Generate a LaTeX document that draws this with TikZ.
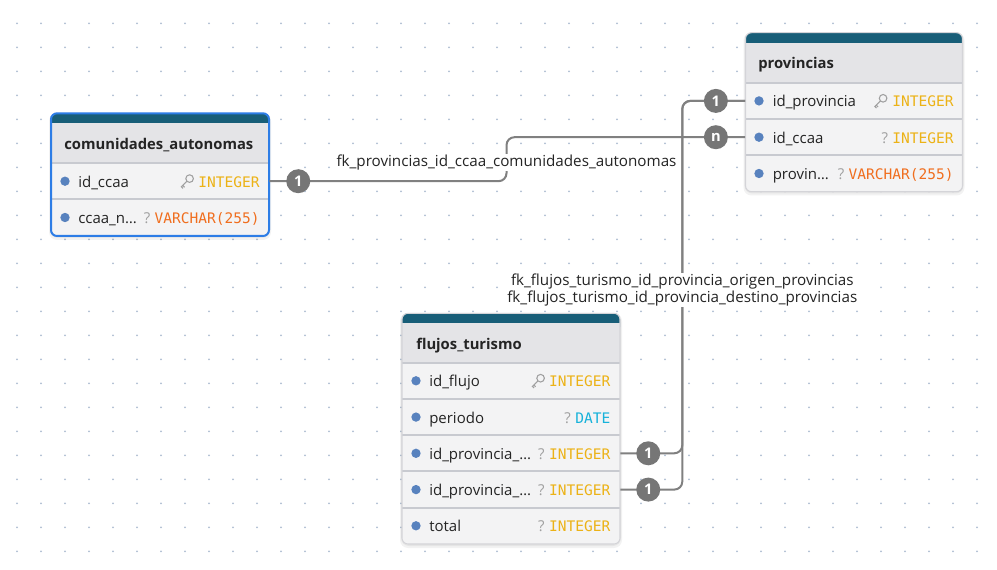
\documentclass[tikz,border=0pt]{standalone}
\usepackage{fontspec}
\setmainfont{Open Sans}
\newfontfamily\typefont{DejaVu Sans Mono}
\usepackage{tikz}
\usetikzlibrary{calc}
\definecolor{hdteal}{RGB}{24,94,120}
\definecolor{titlegray}{RGB}{228,228,231}
\definecolor{rowgray}{RGB}{243,243,244}
\definecolor{sepgray}{RGB}{200,202,208}
\definecolor{framegray}{RGB}{212,212,216}
\definecolor{selblue}{RGB}{45,125,230}
\definecolor{dotblue}{RGB}{88,130,190}
\definecolor{intyellow}{RGB}{236,178,22}
\definecolor{varorange}{RGB}{240,110,30}
\definecolor{datecyan}{RGB}{22,178,218}
\definecolor{linkgray}{RGB}{128,128,128}
\definecolor{badgegray}{RGB}{118,118,118}
\definecolor{griddot}{RGB}{175,190,210}
\definecolor{inkdark}{RGB}{36,36,36}
\definecolor{qgray}{RGB}{160,160,160}

\begin{document}
\begin{tikzpicture}[x=0.75pt,y=-0.75pt,
  tshadow/.style={fill=black,opacity=0.05,rounded corners=6pt},
  tframe/.style={draw=framegray,line width=0.8pt,rounded corners=4.5pt},
  selframe/.style={draw=selblue,line width=1.5pt,rounded corners=4.5pt},
  sepline/.style={draw=sepgray,line width=1.5pt},
  fieldrow/.style={rectangle,inner sep=0pt,minimum height=27.2pt},
  tabtitle/.style={anchor=base west,inner sep=0pt,text=inkdark,font=\fontsize{11.1}{13}\selectfont\bfseries},
  fieldname/.style={anchor=base west,inner sep=0pt,text=inkdark,font=\fontsize{11.25}{13.5}\selectfont},
  fieldtype/.style={anchor=base east,inner sep=0pt,font=\fontsize{10.9}{13}\typefont},
  qmark/.style={anchor=base east,inner sep=0pt,text=qgray,font=\fontsize{11.25}{13.5}\selectfont},
  fielddot/.style={circle,fill=dotblue,minimum size=7pt,inner sep=0pt},
  badge/.style={circle,fill=badgegray,text=white,minimum size=18pt,inner sep=0pt,font=\fontsize{11}{12}\selectfont\bfseries},
  fklink/.style={draw=linkgray,line width=1.5pt,rounded corners=6pt},
  fklabel/.style={fill=white,inner sep=1pt,text=inkdark,align=center,font=\fontsize{11.4}{12.45}\selectfont},
  keyicon/.pic={\draw[qgray,line width=0.8pt] (2.6,-2.6) circle (3.8) (0,0) -- (-6,6) (-4.2,4.2) -- (-2.4,6) (-5.6,5.6) -- (-4,7.2);}]
\fill[white] (0,0) rectangle (997,570);
\useasboundingbox (0,0) rectangle (997,570);
\foreach \i in {0,...,40} {\foreach \j in {0,...,22} {\fill[griddot] (17+24*\i,23.3+24*\j) circle (1);}}

\fill[tshadow] (49,113) rectangle (271,240);
\fill[tshadow] (50,114) rectangle (270,238);
\fill[rowgray,rounded corners=4.5pt] (51,113.3) rectangle (269,236);
\fill[hdteal,rounded corners=4.5pt] (51,113.3) rectangle (269,133);
\fill[titlegray] (51,123.5) rectangle (269,163);
\draw[sepline] (51,163) -- (269,163) (51,199.3) -- (269,199.3);
\draw[selframe] (51,113.3) rectangle (269,236);
\node[tabtitle] (ca) at (64,150) {comunidades\_autonomas};
\node[fieldrow,minimum width=163.5pt] (ca-1) at (160,181.2) {};
\node[fielddot] (ca-1d) at (65,181.2) {};
\node[fieldname] (ca-1n) at (78,187.2) {id\_ccaa};
\node[fieldtype,text=intyellow] (ca-1t) at (260,187.2) {INTEGER};
\pic at (187,181.2) {keyicon};
\node[fieldrow,minimum width=163.5pt] (ca-2) at (160,217.5) {};
\node[fielddot] (ca-2d) at (65,217.5) {};
\node[fieldname] (ca-2n) at (78,223.5) {ccaa\_n…};
\node[fieldtype,text=varorange] (ca-2t) at (260,223.5) {VARCHAR(255)};
\node[qmark] (ca-2q) at ([xshift=-3pt]ca-2t.base west) {?};

\fill[tshadow] (743.5,32.5) rectangle (964.5,195.5);
\fill[tshadow] (744.5,33.5) rectangle (963.5,193.5);
\fill[rowgray,rounded corners=4.5pt] (745.5,32.7) rectangle (962.5,191.7);
\fill[hdteal,rounded corners=4.5pt] (745.5,32.7) rectangle (962.5,52);
\fill[titlegray] (745.5,43) rectangle (962.5,82.7);
\draw[sepline] (745.5,82.7) -- (962.5,82.7) (745.5,119) -- (962.5,119) (745.5,155.3) -- (962.5,155.3);
\draw[tframe] (745.5,32.7) rectangle (962.5,191.7);
\node[tabtitle] (pv) at (758,69) {provincias};
\node[fieldrow,minimum width=162.75pt] (pv-1) at (854,100.9) {};
\node[fielddot] (pv-1d) at (759,100.9) {};
\node[fieldname] (pv-1n) at (772.5,106.9) {id\_provincia};
\node[fieldtype,text=intyellow] (pv-1t) at (954,106.9) {INTEGER};
\pic at (880.5,100.9) {keyicon};
\node[fieldrow,minimum width=162.75pt] (pv-2) at (854,137.2) {};
\node[fielddot] (pv-2d) at (759,137.2) {};
\node[fieldname] (pv-2n) at (772.5,143.2) {id\_ccaa};
\node[fieldtype,text=intyellow] (pv-2t) at (954,143.2) {INTEGER};
\node[qmark] (pv-2q) at ([xshift=-3pt]pv-2t.base west) {?};
\node[fieldrow,minimum width=162.75pt] (pv-3) at (854,173.5) {};
\node[fielddot] (pv-3d) at (759,173.5) {};
\node[fieldname] (pv-3n) at (772.5,179.5) {provin…};
\node[fieldtype,text=varorange] (pv-3t) at (954,179.5) {VARCHAR(255)};
\node[qmark] (pv-3q) at ([xshift=-3pt]pv-3t.base west) {?};

\fill[tshadow] (400,313) rectangle (622,548);
\fill[tshadow] (401,314) rectangle (621,546);
\fill[rowgray,rounded corners=4.5pt] (402,313.3) rectangle (620,544);
\fill[hdteal,rounded corners=4.5pt] (402,313.3) rectangle (620,333);
\fill[titlegray] (402,323.3) rectangle (620,362.7);
\draw[sepline] (402,362.7) -- (620,362.7) (402,398.95) -- (620,398.95) (402,435.2) -- (620,435.2)
  (402,471.45) -- (620,471.45) (402,507.7) -- (620,507.7);
\draw[tframe] (402,313.3) rectangle (620,544);
\node[tabtitle] (ft) at (416,350) {flujos\_turismo};
\node[fieldrow,minimum width=163.5pt] (ft-1) at (511,380.8) {};
\node[fielddot] (ft-1d) at (416,380.8) {};
\node[fieldname] (ft-1n) at (429,386.8) {id\_flujo};
\node[fieldtype,text=intyellow] (ft-1t) at (610.7,386.8) {INTEGER};
\pic at (538,380.8) {keyicon};
\node[fieldrow,minimum width=163.5pt] (ft-2) at (511,417.1) {};
\node[fielddot] (ft-2d) at (416,417.1) {};
\node[fieldname] (ft-2n) at (429,423.1) {periodo};
\node[fieldtype,text=datecyan] (ft-2t) at (610.7,423.1) {DATE};
\node[qmark] (ft-2q) at ([xshift=-3pt]ft-2t.base west) {?};
\node[fieldrow,minimum width=163.5pt] (ft-3) at (511,453.3) {};
\node[fielddot] (ft-3d) at (416,453.3) {};
\node[fieldname] (ft-3n) at (429,459.3) {id\_provincia\_…};
\node[fieldtype,text=intyellow] (ft-3t) at (610.7,459.3) {INTEGER};
\node[qmark] (ft-3q) at ([xshift=-3pt]ft-3t.base west) {?};
\node[fieldrow,minimum width=163.5pt] (ft-4) at (511,489.6) {};
\node[fielddot] (ft-4d) at (416,489.6) {};
\node[fieldname] (ft-4n) at (429,495.6) {id\_provincia\_…};
\node[fieldtype,text=intyellow] (ft-4t) at (610.7,495.6) {INTEGER};
\node[qmark] (ft-4q) at ([xshift=-3pt]ft-4t.base west) {?};
\node[fieldrow,minimum width=163.5pt] (ft-5) at (511,525.8) {};
\node[fielddot] (ft-5d) at (416,525.8) {};
\node[fieldname] (ft-5n) at (429,531.8) {total};
\node[fieldtype,text=intyellow] (ft-5t) at (610.7,531.8) {INTEGER};
\node[qmark] (ft-5q) at ([xshift=-3pt]ft-5t.base west) {?};

\coordinate (ccaa-bend) at (506.5,0);
\coordinate (prov-bend) at (682.3,0);
\draw[fklink] (ca-1.east) -- (ca-1.east -| ccaa-bend) -- (pv-2.west -| ccaa-bend) -- (pv-2.west);
\draw[fklink] (ft-3.east) -- (ft-3.east -| prov-bend) -- (pv-1.west -| prov-bend) -- (pv-1.west);
\draw[fklink] (ft-4.east) -- (ft-4.east -| prov-bend) -- (pv-1.west -| prov-bend) -- (pv-1.west);
\node[fklabel] (fk-ccaa) at (506.5,162.5) {fk\_provincias\_id\_ccaa\_comunidades\_autonomas};
\node[fklabel] (fk-prov) at (682.3,290) {fk\_flujos\_turismo\_id\_provincia\_origen\_provincias\\fk\_flujos\_turismo\_id\_provincia\_destino\_provincias};
\node[badge] (ca-1b) at ([xshift=21.75pt]ca-1.east) {1};
\node[badge] (pv-1b) at ([xshift=-22pt]pv-1.west) {1};
\node[badge] (pv-2b) at ([xshift=-22pt]pv-2.west) {n};
\node[badge] (ft-3b) at ([xshift=21pt]ft-3.east) {1};
\node[badge] (ft-4b) at ([xshift=21pt]ft-4.east) {1};
\end{tikzpicture}
\end{document}
